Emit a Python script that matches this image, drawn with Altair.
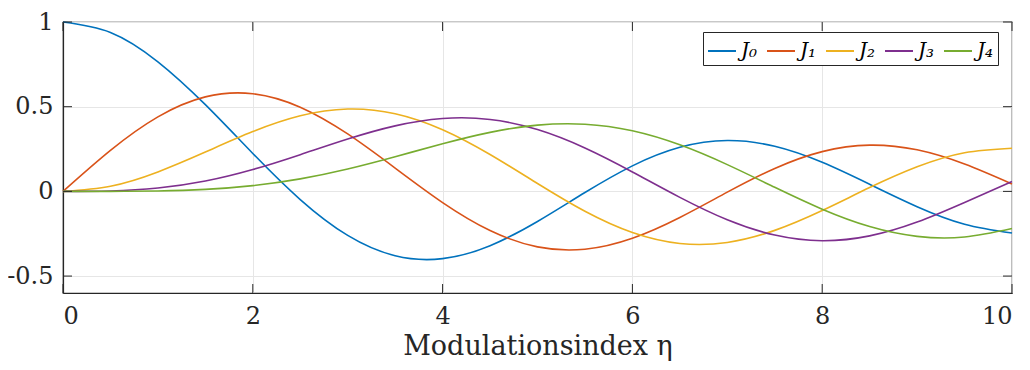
import altair as alt
import pandas as pd

eta = [0, 0.5, 1, 1.5, 2, 2.5, 3, 3.5, 4, 4.5, 5, 5.5, 6, 6.5, 7, 7.5, 8, 8.5, 9, 9.5, 10]
J0 = [1, 0.93847, 0.76520, 0.51183, 0.22389, -0.04838, -0.26005, -0.38013, -0.39715, -0.32054,
      -0.17760, -0.00684, 0.15065, 0.26009, 0.30008, 0.26634, 0.17165, 0.04194, -0.09033, -0.19393, -0.24594]
J1 = [0, 0.24227, 0.44005, 0.55794, 0.57672, 0.49709, 0.33906, 0.13738, -0.06604, -0.23106,
      -0.32758, -0.34144, -0.27668, -0.15384, -0.00468, 0.13524, 0.23464, 0.27312, 0.24531, 0.16127, 0.04347]
J2 = [0, 0.03060, 0.11490, 0.23209, 0.35283, 0.44606, 0.48609, 0.45863, 0.36413, 0.21785,
      0.04657, -0.11731, -0.24287, -0.30743, -0.30142, -0.23027, -0.11299, 0.02232, 0.14485, 0.22789, 0.25463]
J3 = [0, 0.00256, 0.01956, 0.06096, 0.12894, 0.21660, 0.30906, 0.38677, 0.43017, 0.42470,
      0.36483, 0.25612, 0.11477, -0.03535, -0.16756, -0.25806, -0.29113, -0.26262, -0.18093, -0.06532, 0.05838]
J4 = [0, 0.00016, 0.00248, 0.01179, 0.03400, 0.07378, 0.13203, 0.20440, 0.28113, 0.34842,
      0.39123, 0.39671, 0.35764, 0.27480, 0.15780, 0.02382, -0.10536, -0.20770, -0.26547, -0.26914, -0.21960]

series_names = ["J₀", "J₁", "J₂", "J₃", "J₄"]
series_vals = [J0, J1, J2, J3, J4]
colors = ["#0072BD", "#D95319", "#EDB120", "#7E2F8E", "#77AC30"]

x_ticks = [0, 2, 4, 6, 8, 10]
y_ticks = [-0.5, 0, 0.5, 1]

rows = []
for name, vals in zip(series_names, series_vals):
    for x, y in zip(eta, vals):
        rows.append({"eta": x, "J": y, "name": name})
df = pd.DataFrame(rows)

W, H = 949, 271
FONT = "DejaVu Serif"
xscale = alt.Scale(domain=[0, 10], nice=False, zero=False)
yscale = alt.Scale(domain=[-0.6, 1], nice=False, zero=False)

xaxis = alt.Axis(values=x_ticks, title="Modulationsindex η", grid=True, ticks=False,
                 labelFont=FONT, labelFontSize=24, titleFont=FONT, titleFontSize=27,
                 labelPadding=11, titlePadding=5, format="d")
yaxis = alt.Axis(values=y_ticks, title=None, grid=True, ticks=False, labelPadding=10,
                 labelFont=FONT, labelFontSize=24,
                 labelExpr="datum.value == 0 ? '0' : datum.value == 1 ? '1' : replace(format(datum.value, '.1f'), '−', '-')")

lines = alt.Chart(df).mark_line(strokeWidth=1.6, interpolate="natural").encode(
    x=alt.X("eta:Q", scale=xscale, axis=xaxis),
    y=alt.Y("J:Q", scale=yscale, axis=yaxis),
    color=alt.Color("name:N", scale=alt.Scale(domain=series_names, range=colors),
                    legend=alt.Legend(title=None, orient="none", legendX=640, legendY=10,
                                      direction="horizontal", symbolType="stroke",
                                      symbolSize=784, symbolStrokeWidth=2,
                                      labelFont=FONT, labelFontSize=20, labelFontStyle="italic",
                                      labelColor="#000000", labelOffset=4, columnPadding=5,
                                      strokeColor="#262626", padding=4, fillColor="#ffffff",
                                      labelLimit=60)),
)

xt = pd.DataFrame({"eta": x_ticks})
yt = pd.DataFrame({"J": y_ticks})
tick_color = "#262626"
xb = alt.Chart(xt).mark_rule(color=tick_color, strokeWidth=1).encode(
    x=alt.X("eta:Q", scale=xscale, axis=xaxis), y=alt.value(H), y2=alt.value(H - 9))
xtp = alt.Chart(xt).mark_rule(color=tick_color, strokeWidth=1).encode(
    x=alt.X("eta:Q", scale=xscale, axis=xaxis), y=alt.value(0), y2=alt.value(9))
yl = alt.Chart(yt).mark_rule(color=tick_color, strokeWidth=1).encode(
    y=alt.Y("J:Q", scale=yscale, axis=yaxis), x=alt.value(0), x2=alt.value(9))
yr = alt.Chart(yt).mark_rule(color=tick_color, strokeWidth=1).encode(
    y=alt.Y("J:Q", scale=yscale, axis=yaxis), x=alt.value(W), x2=alt.value(W - 9))

chart = alt.layer(lines, xb, xtp, yl, yr).properties(
    width=W, height=H,
    autosize=alt.AutoSizeParams(type="none"),
    padding={"left": 55, "top": 14, "right": 10, "bottom": 76},
    background="#ffffff",
).configure(font=FONT).configure_view(stroke="#262626", strokeWidth=1.2).configure_axis(
    labelFont=FONT, titleFont=FONT,
    labelColor="#262626", titleColor="#262626", titleFontWeight="normal",
    gridColor="#e6e6e6", gridWidth=1, domainColor="#262626", domainWidth=1.2,
)

chart.save("out.html", embed_options={"renderer": "svg", "actions": False})
